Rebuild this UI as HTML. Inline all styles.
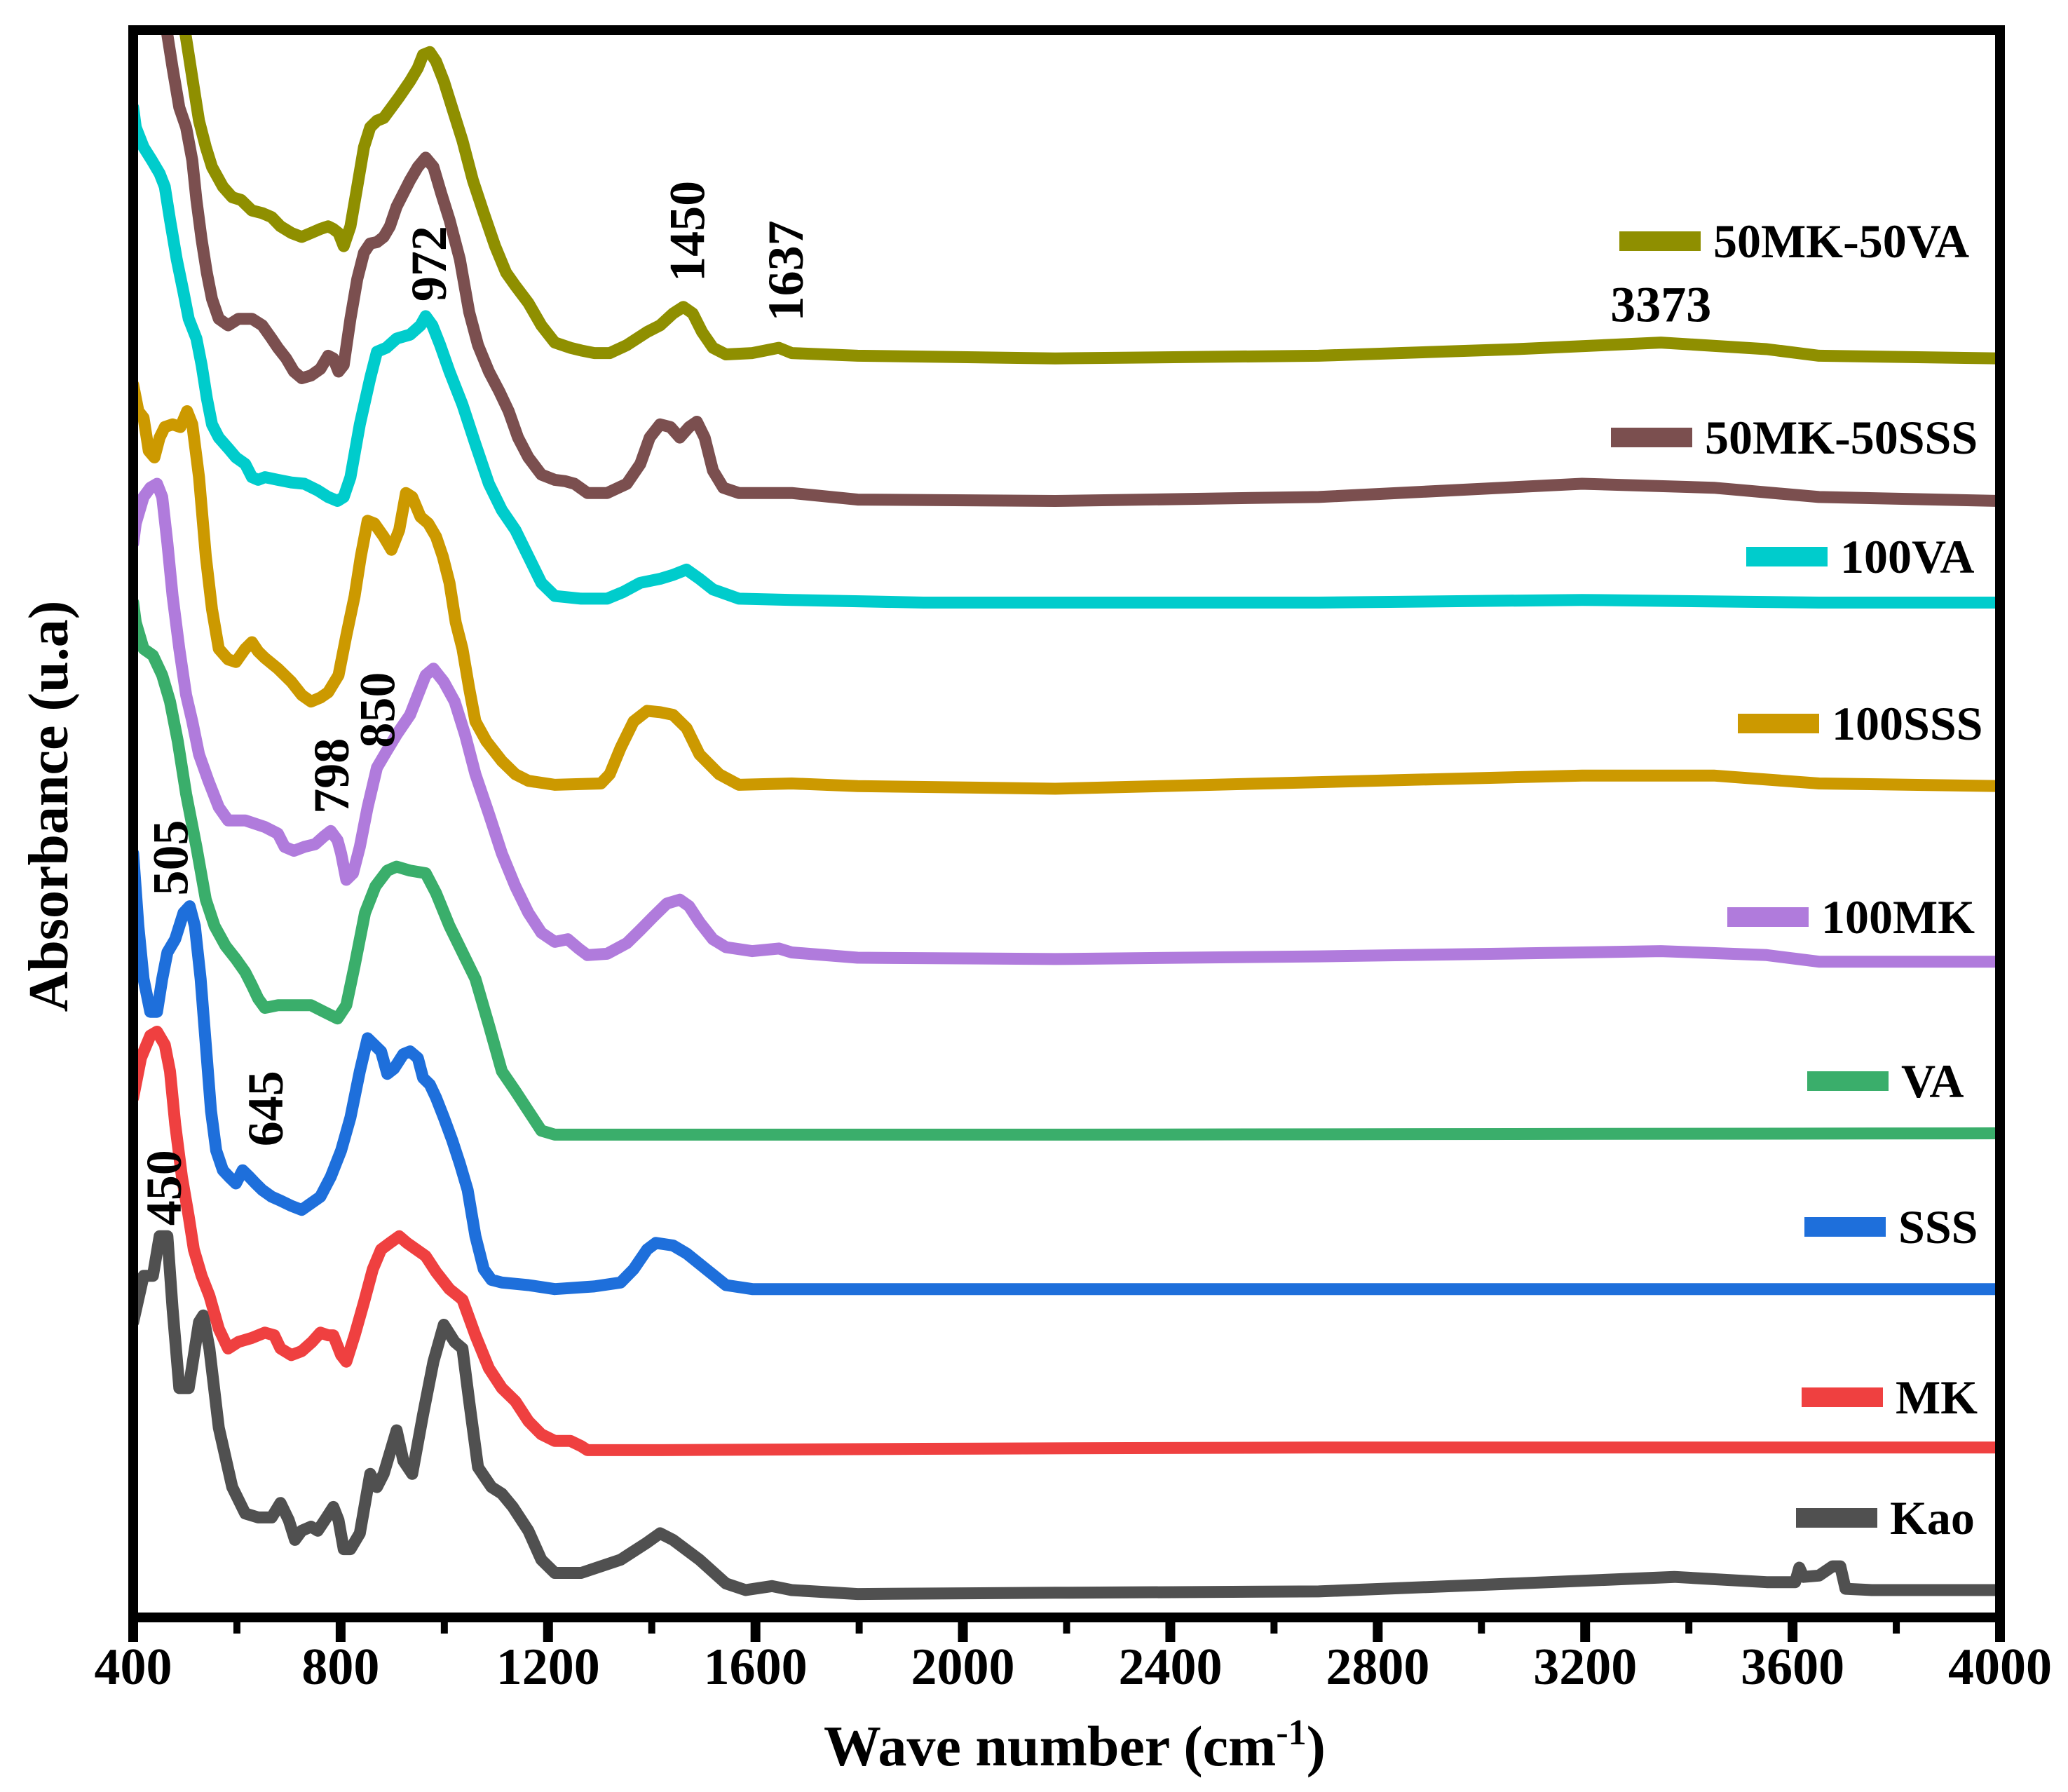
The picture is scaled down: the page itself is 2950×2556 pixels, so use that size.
<!DOCTYPE html>
<html><head><meta charset="utf-8"><style>
html,body{margin:0;padding:0;background:#fff}
svg{display:block}
text{font-family:"Liberation Serif",serif;font-weight:bold;fill:#000}
</style></head><body>
<svg id="chart" width="2950" height="2556" viewBox="0 0 2950 2556" xmlns="http://www.w3.org/2000/svg">
<defs><clipPath id="plotclip"><rect x="197" y="50" width="2649" height="2250"/></clipPath></defs>
<g id="series" clip-path="url(#plotclip)"></g>
<g id="axes"></g>
<g id="ann"></g>
<g id="legend"></g>
</svg>
<script>
const xTicks=[400,800,1200,1600,2000,2400,2800,3200,3600,4000];
const seriesNames=["Kao","MK","SSS","VA","100MK","100SSS","100VA","50MK-50SSS","50MK-50VA"];
const seriesColors=["#505050","#EF4040","#1E6FDB","#3AAE6B","#B07BDC","#CC9900","#00CCCC","#7B4F4F","#8F8F00"];
const kaoWN=[400,420,438,451,466,476,489,507,527,535,547,565,591,616,641,667,684,700,712,725,743,756,773,786,796,806,819,837,857,870,883,908,921,938,959,979,999,1020,1035,1048,1065,1091,1111,1132,1162,1187,1213,1264,1340,1391,1416,1441,1492,1543,1581,1632,1670,1797,2178,2686,3194,3372,3550,3605,3613,3621,3651,3677,3692,3702,3753,4000];
const kaoA=[220,255,255,285,285,230,170,170,220,225,200,140,95,75,72,72,83,70,55,62,65,62,72,80,70,48,48,60,105,95,105,138,115,105,150,190,218,205,200,160,110,95,90,80,62,40,30,30,40,53,60,55,40,22,17,20,17,14,15,16,24,27,23,23,34,27,28,35,35,18,17,17];
const mkWN=[400,415,433,446,461,471,481,494,507,517,532,547,565,583,603,629,654,672,684,705,725,745,761,776,786,801,811,827,845,862,878,895,913,928,946,964,984,1010,1035,1060,1086,1111,1137,1162,1187,1213,1243,1264,1276,1416,1924,2686,4000];
const mkA=[390,420,437,440,430,410,370,330,300,275,255,240,215,200,205,208,212,210,200,195,198,205,212,210,210,195,190,210,235,260,275,280,285,280,275,270,258,245,237,210,185,170,160,145,135,130,130,126,123,123,124,125,125];
const sssWN=[400,410,420,433,446,456,466,481,497,509,519,530,540,550,560,573,585,598,611,624,636,649,667,684,705,725,743,761,781,801,819,837,852,865,878,890,903,921,934,949,959,972,984,999,1015,1030,1045,1060,1076,1091,1111,1162,1213,1289,1340,1365,1391,1408,1441,1467,1505,1543,1594,2178,4000];
const sssA=[575,520,480,455,455,480,500,510,530,535,520,480,430,380,350,335,330,325,335,330,325,320,315,312,308,305,310,315,330,350,375,410,435,430,425,408,412,423,425,420,405,400,390,375,358,340,320,285,260,252,250,248,245,247,250,260,275,280,278,272,260,248,245,245,245];
const vaWN=[400,405,420,438,456,471,486,502,522,540,557,578,598,616,629,641,654,679,705,743,768,794,811,827,847,867,890,908,934,964,984,1010,1035,1060,1086,1111,1137,1162,1187,1213,1289,2178,4000];
const vaA=[765,750,730,725,710,690,660,620,580,540,520,505,495,485,475,465,458,460,460,460,455,450,460,490,530,550,562,565,562,560,545,520,500,480,445,410,395,380,365,362,362,362,363];
const mk100WN=[400,405,420,433,446,456,466,476,489,502,514,527,545,565,583,616,654,679,692,710,730,751,768,781,794,801,811,824,837,852,870,888,908,934,954,964,979,999,1020,1040,1060,1086,1111,1137,1162,1187,1213,1238,1259,1276,1314,1352,1378,1403,1429,1454,1472,1492,1518,1543,1594,1645,1670,1797,2178,2686,3194,3346,3550,3651,4000];
const mk100A=[810,825,845,852,855,845,810,770,730,695,675,650,630,610,600,600,595,590,580,577,580,582,588,592,585,575,555,560,580,610,640,652,665,680,700,710,715,705,690,665,635,605,575,550,530,515,508,510,503,498,499,507,517,527,537,540,535,523,510,504,501,503,500,496,495,497,500,501,498,493,493];
const sss100WN=[400,410,420,430,441,451,461,476,491,504,514,527,540,552,565,583,598,616,629,641,654,679,705,725,743,761,776,796,811,827,839,852,865,883,898,913,926,938,954,969,984,997,1010,1022,1035,1048,1060,1081,1111,1137,1162,1213,1302,1319,1340,1365,1391,1416,1441,1467,1492,1530,1568,1670,1797,2178,2686,3194,3448,3651,4000];
const sss100A=[930,910,905,880,875,890,898,900,898,910,900,860,800,760,730,722,720,730,735,728,723,715,705,695,690,693,697,710,740,770,800,827,825,815,805,820,848,845,830,825,815,800,780,750,730,700,675,660,645,635,630,627,628,635,655,675,683,682,680,670,650,635,627,628,626,624,629,634,634,628,626];
const va100WN=[400,405,420,436,451,461,471,484,497,507,522,532,542,552,565,583,598,616,629,641,654,679,705,730,756,776,794,806,819,837,857,870,888,908,934,954,964,977,992,1010,1035,1060,1086,1111,1137,1162,1187,1213,1264,1314,1345,1378,1416,1441,1467,1492,1518,1568,1670,1924,2686,3194,3651,4000];
const va100A=[1140,1125,1110,1100,1090,1080,1055,1025,1000,980,965,945,920,900,890,882,875,870,860,858,860,858,856,855,850,845,842,845,860,900,935,955,958,965,968,975,982,975,960,940,915,885,855,835,820,800,780,770,768,768,773,780,783,786,790,783,775,768,767,765,765,767,765,765];
const mkSssWN=[455,464,476,489,502,514,522,532,542,552,565,583,603,629,649,667,679,695,710,725,743,761,776,786,796,806,819,832,845,857,870,883,895,908,921,934,949,964,979,994,1010,1030,1048,1065,1086,1106,1124,1142,1162,1187,1213,1233,1251,1276,1314,1352,1378,1396,1416,1436,1454,1472,1487,1502,1518,1538,1568,1670,1797,2178,2686,3194,3448,3651,4000];
const mkSssA=[1230,1200,1170,1140,1125,1100,1070,1040,1015,995,980,975,980,980,975,965,958,950,940,935,937,942,952,950,940,945,980,1010,1030,1037,1038,1042,1050,1065,1075,1085,1095,1102,1095,1075,1055,1025,985,960,940,925,910,890,875,862,858,857,855,848,848,855,870,890,900,898,890,898,902,890,865,852,848,848,843,842,845,855,852,845,842];
const mkVaWN=[489,497,507,517,527,540,552,573,591,608,629,649,667,684,705,725,743,761,776,786,796,806,819,832,845,857,870,883,898,913,934,949,959,972,984,999,1015,1035,1055,1076,1098,1119,1137,1162,1187,1213,1243,1264,1289,1319,1352,1391,1416,1441,1461,1479,1497,1518,1543,1594,1645,1670,1797,2178,2686,3067,3346,3550,3651,4000];
const mkVaA=[1230,1205,1180,1155,1130,1110,1095,1080,1072,1070,1062,1060,1057,1050,1045,1042,1045,1048,1050,1048,1045,1035,1050,1080,1110,1125,1130,1132,1140,1148,1160,1170,1180,1182,1175,1160,1140,1115,1085,1060,1035,1015,1005,992,975,962,958,956,954,954,960,970,975,984,989,984,970,958,953,954,958,954,952,950,952,957,962,957,952,950];
const annLabels=["972","1450","1637","850","798","505","645","450"];
const annWN=[969,1467,1657,870,781,471,654,458];
const annA=[993,1008,978,655,605,543,353,293];

const NS="http://www.w3.org/2000/svg";
const X0=190,X1=2853;
function xs(w){return X0+(w-400)*(X1-X0)/3600;}
function ys(a){return 2300-a*1.883;}
const allWN=[kaoWN,mkWN,sssWN,vaWN,mk100WN,sss100WN,va100WN,mkSssWN,mkVaWN];
const allA=[kaoA,mkA,sssA,vaA,mk100A,sss100A,va100A,mkSssA,mkVaA];
const sg=document.getElementById('series');
for(let i=0;i<allWN.length;i++){
  let d='';
  for(let j=0;j<allWN[i].length;j++){d+=(j?'L':'M')+xs(allWN[i][j]).toFixed(1)+' '+ys(allA[i][j]).toFixed(1);}
  const p=document.createElementNS(NS,'path');
  p.setAttribute('d',d);p.setAttribute('fill','none');p.setAttribute('stroke',seriesColors[i]);
  p.setAttribute('stroke-width','17');p.setAttribute('stroke-linejoin','round');p.setAttribute('stroke-linecap','round');
  
  
  sg.appendChild(p);
}
const ax=document.getElementById('axes');
function el(tag,attrs,parent,txt){const e=document.createElementNS(NS,tag);for(const k in attrs)e.setAttribute(k,attrs[k]);if(txt!==undefined)e.textContent=txt;parent.appendChild(e);return e;}
const frame=el('rect',{x:190,y:43,width:2663,height:2264,fill:'none',stroke:'#000','stroke-width':14},ax);


for(let w=600;w<4000;w+=400){
  const t=el('line',{x1:xs(w),x2:xs(w),y1:2307,y2:2330,stroke:'#000','stroke-width':10},ax);
  
  
}
xTicks.forEach(w=>{
  const t=el('line',{x1:xs(w),x2:xs(w),y1:2307,y2:2342,stroke:'#000','stroke-width':14},ax);
  
  
  const l=el('text',{x:xs(w),y:2402,'font-size':74,'text-anchor':'middle'},ax,String(w));
  
  
});
const xt=el('text',{x:1533,y:2518,'font-size':82,'text-anchor':'middle'},ax);


xt.innerHTML='Wave number (cm<tspan dy="-30" font-size="52">-1</tspan><tspan dy="30">)</tspan>';
const yt=el('text',{x:0,y:0,'font-size':80,'text-anchor':'middle',transform:'translate(96,1150) rotate(-90)'},ax,'Absorbance (u.a)');


const an=document.getElementById('ann');
for(let i=0;i<annLabels.length;i++){
  const t=el('text',{x:0,y:0,'font-size':72,transform:'translate('+(xs(annWN[i])+25)+','+ys(annA[i])+') rotate(-90)'},an,annLabels[i]);
  
  
}
const a3=el('text',{x:xs(3346),y:ys(978),'font-size':72,'text-anchor':'middle'},an,'3373');


const lg=document.getElementById('legend');
const legY=[2165,1993,1750,1542,1308,1032,794,624,344];
const legSwX=[2562,2570,2574,2578,2464,2479,2491,2298,2310];
for(let i=0;i<seriesNames.length;i++){
  const g=el('g',{},lg);
  
  
  const r=el('rect',{x:legSwX[i],y:legY[i]-14,width:116,height:28,fill:seriesColors[i]},g);
  
  
  const t=el('text',{x:legSwX[i]+134,y:legY[i]+23,'font-size':68},g,seriesNames[i]);
  
  
}
</script>
</body></html>
